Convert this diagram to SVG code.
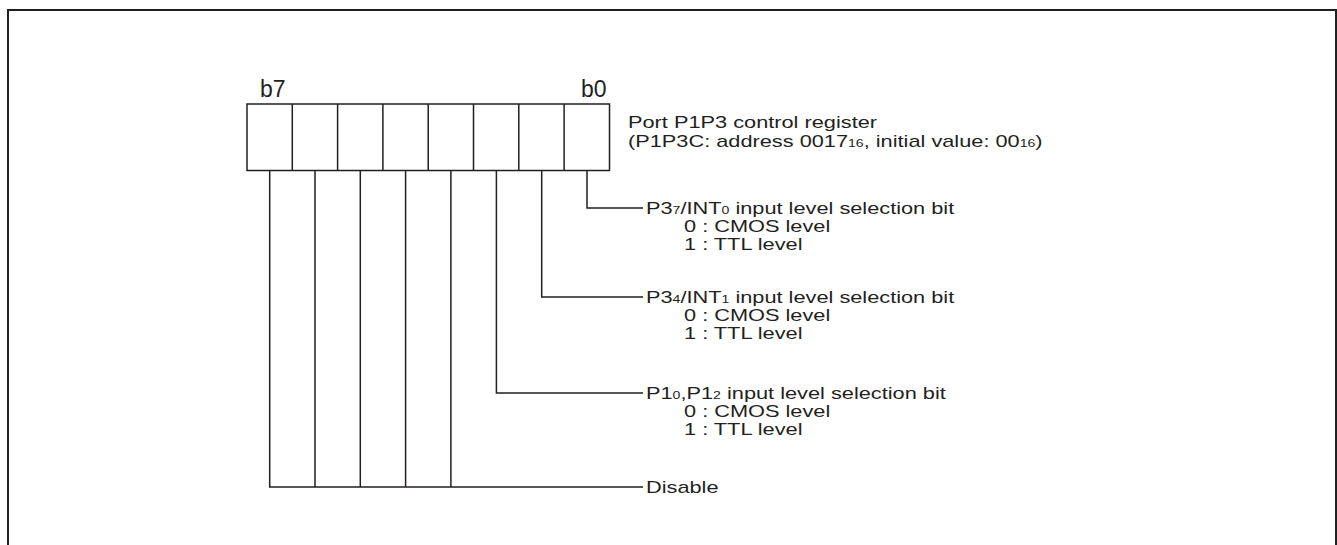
<svg xmlns="http://www.w3.org/2000/svg" width="1337" height="545" viewBox="0 0 1337 545">
<style>
  .ln { fill: none; stroke: #231f20; stroke-width: 1.5; }
  .frame { fill: none; stroke: #231f20; stroke-width: 2; }
  .t { font-family: "Liberation Sans", Arial, sans-serif; font-size: 17px; fill: #231f20; }
  .big { font-family: "Liberation Sans", Arial, sans-serif; font-size: 23px; fill: #231f20; }
  .sub { font-size: 11px; }
</style>
<rect x="0" y="0" width="1337" height="545" fill="#ffffff"/>
<path class="frame" d="M8,545 V10 H1336 V545"/>
<g id="register">
  <rect class="ln" x="247" y="104" width="362.5" height="66.5"/>
  <path class="ln" d="M292.3,104 V170.5 M337.6,104 V170.5 M382.9,104 V170.5 M428.2,104 V170.5 M473.5,104 V170.5 M518.8,104 V170.5 M564.1,104 V170.5"/>
  <text class="big" x="260" y="97">b7</text>
  <text class="big" x="581" y="97">b0</text>
  <text class="t" transform="matrix(1.28,0,0,1,628,127.5)">Port P1P3 control register</text>
  <text class="t" transform="matrix(1.28,0,0,1,628,146.5)"> (P1P3C: address 0017<tspan class="sub">16</tspan>, initial value: 00<tspan class="sub">16</tspan>)</text>
</g>
<g id="connectors">
  <path class="ln" d="M587,170.5 V208 H643"/>
  <path class="ln" d="M541.7,170.5 V297 H643"/>
  <path class="ln" d="M496.4,170.5 V393 H643"/>
  <path class="ln" d="M269.7,170.5 V487 H643 M315,170.5 V487 M360.3,170.5 V487 M405.6,170.5 V487 M450.9,170.5 V487"/>
</g>
<g id="bit0">
  <text class="t" transform="matrix(1.28,0,0,1,646,214)">P3<tspan class="sub">7</tspan>/INT<tspan class="sub">0</tspan> input level selection bit</text>
  <text class="t" transform="matrix(1.28,0,0,1,684,232)">0 : CMOS level</text>
  <text class="t" transform="matrix(1.28,0,0,1,684,250)">1 : TTL level</text>
</g>
<g id="bit1">
  <text class="t" transform="matrix(1.28,0,0,1,646,303)">P3<tspan class="sub">4</tspan>/INT<tspan class="sub">1</tspan> input level selection bit</text>
  <text class="t" transform="matrix(1.28,0,0,1,684,321)">0 : CMOS level</text>
  <text class="t" transform="matrix(1.28,0,0,1,684,339)">1 : TTL level</text>
</g>
<g id="bit2">
  <text class="t" transform="matrix(1.28,0,0,1,646,399)">P1<tspan class="sub">0</tspan>,P1<tspan class="sub">2</tspan> input level selection bit</text>
  <text class="t" transform="matrix(1.28,0,0,1,684,417)">0 : CMOS level</text>
  <text class="t" transform="matrix(1.28,0,0,1,684,435)">1 : TTL level</text>
</g>
<g id="disable">
  <text class="t" transform="matrix(1.28,0,0,1,646,493)">Disable</text>
</g>
</svg>
